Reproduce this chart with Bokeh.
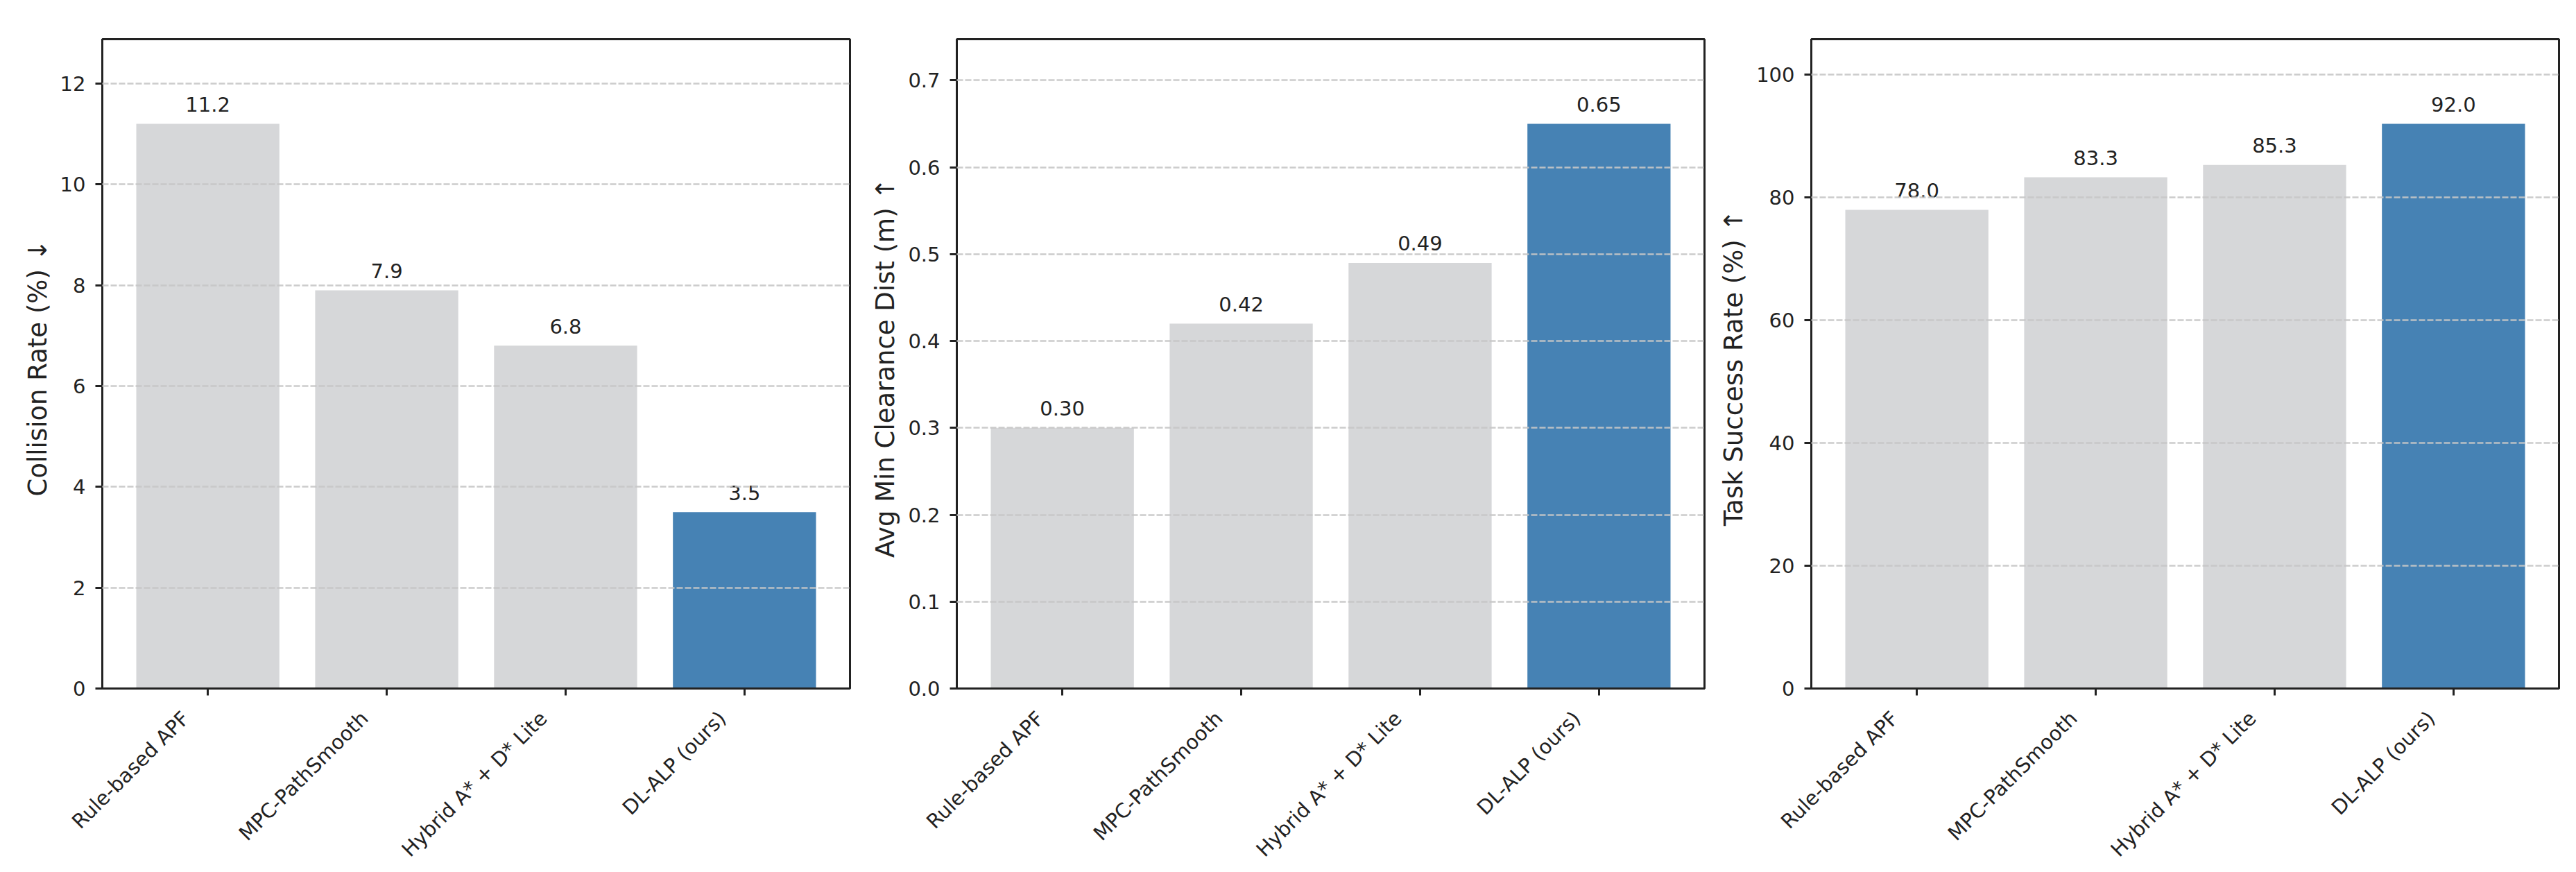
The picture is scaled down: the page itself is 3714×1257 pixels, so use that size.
import math
from bokeh.plotting import figure
from bokeh.layouts import row
from bokeh.models import (Range1d, FixedTicker, ColumnDataSource, PrintfTickFormatter,
                          LinearAxis)
from bokeh.core.properties import value
from bokeh.embed import file_html
from bokeh.resources import INLINE

# ---- data ----
methods = ["Rule-based APF", "MPC-PathSmooth", "Hybrid A* + D* Lite", "DL-ALP (ours)"]
collision_rate = [11.2, 7.9, 6.8, 3.5]
clearance_dist = [0.30, 0.42, 0.49, 0.65]
success_rate = [78.0, 83.3, 85.3, 92.0]

collision_ticks = [0, 2, 4, 6, 8, 10, 12]
clearance_ticks = [0.0, 0.1, 0.2, 0.3, 0.4, 0.5, 0.6, 0.7]
success_ticks = [0, 20, 40, 60, 80, 100]

GRAY = "#d6d7d9"
BLUE = "#4682b4"
bar_colors = [GRAY, GRAY, GRAY, BLUE]
TXT = "#222222"
FONT = "DejaVu Sans"

X0, X1 = -0.59, 3.59
LABEL_SHIFT = 0.124   # label anchor moved left of tick (data units)


def make_panel(vals, ticks, ylabel, fmt, tick_fmt, left_border, right_border):
    xs = list(range(len(methods)))
    ymax = max(vals) * 1.15
    p = figure(frame_width=1078, frame_height=936,
               x_range=Range1d(X0, X1), y_range=Range1d(0, ymax),
               output_backend="svg", toolbar_location=None,
               min_border_left=left_border, min_border_right=right_border,
               min_border_top=56, min_border_bottom=250)
    p.background_fill_color = "white"
    p.border_fill_color = "white"
    p.outline_line_color = TXT
    p.outline_line_width = 3

    src = ColumnDataSource(dict(x=xs, top=vals, color=bar_colors,
                                label=[fmt.format(v) for v in vals]))
    p.vbar(x="x", top="top", width=0.8, color="color", line_color=None, source=src)
    p.text(x="x", y="top", text="label", source=src,
           text_align="center", text_baseline="alphabetic", y_offset=-28,
           text_font=value(FONT), text_font_size="29px", text_color=TXT)

    # grid
    p.xgrid.visible = False
    p.ygrid.grid_line_color = "#c6c6c6"
    p.ygrid.grid_line_alpha = 0.9
    p.ygrid.grid_line_width = 2.5
    p.ygrid.grid_line_dash = "9 3"
    p.ygrid.level = "overlay"

    # x axis: tick marks only
    xa = p.xaxis[0]
    xa.ticker = FixedTicker(ticks=xs)
    xa.major_label_overrides = {i: "" for i in xs}
    xa.major_label_text_font_size = "1px"
    xa.major_label_standoff = 0
    xa.minor_tick_line_color = None
    xa.major_tick_in = 0
    xa.major_tick_out = 10
    xa.major_tick_line_width = 3
    xa.major_tick_line_color = TXT
    xa.axis_line_width = 3
    xa.axis_line_color = TXT

    # x axis: rotated category labels (right-aligned at the tick)
    p.extra_x_ranges = {"lbl": Range1d(X0 + LABEL_SHIFT, X1 + LABEL_SHIFT)}
    la = LinearAxis(x_range_name="lbl", ticker=FixedTicker(ticks=xs),
                    major_label_overrides={i: m for i, m in zip(xs, methods)})
    la.major_label_orientation = math.pi / 4
    la.axis_line_color = None
    la.major_tick_line_color = None
    la.minor_tick_line_color = None
    la.major_tick_in = 0
    la.major_tick_out = 0
    la.major_label_standoff = 28
    la.major_label_text_font = FONT
    la.major_label_text_font_size = "29px"
    la.major_label_text_color = TXT
    p.add_layout(la, "below")

    # y axis
    ya = p.yaxis[0]
    ya.ticker = FixedTicker(ticks=ticks)
    ya.formatter = PrintfTickFormatter(format=tick_fmt)
    ya.minor_tick_line_color = None
    ya.major_tick_in = 0
    ya.major_tick_out = 10
    ya.major_tick_line_width = 3
    ya.major_tick_line_color = TXT
    ya.axis_line_width = 3
    ya.axis_line_color = TXT
    ya.major_label_text_font = FONT
    ya.major_label_text_font_size = "29px"
    ya.major_label_text_color = TXT
    ya.major_label_standoff = 14
    ya.axis_label = ylabel
    ya.axis_label_text_font = FONT
    ya.axis_label_text_font_size = "37px"
    ya.axis_label_text_font_style = "normal"
    ya.axis_label_text_color = TXT
    ya.axis_label_standoff = 8
    return p


p1 = make_panel(collision_rate, collision_ticks, "Collision Rate (%)  \u2193", "{:.1f}", "%d", 147, 10)
p2 = make_panel(clearance_dist, clearance_ticks, "Avg Min Clearance Dist (m)  \u2191", "{:.2f}", "%.1f", 144, 10)
p3 = make_panel(success_rate, success_ticks, "Task Success Rate (%)  \u2191", "{:.1f}", "%d", 144, 9)

layout = row(p1, p2, p3)
open("out.html", "w").write(file_html(layout, INLINE))
